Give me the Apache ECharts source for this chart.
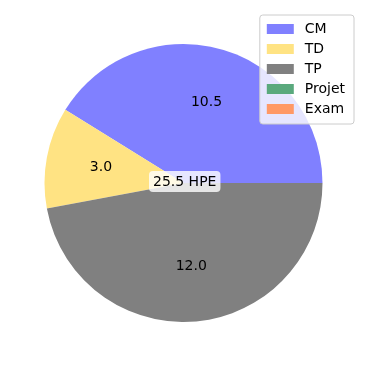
<!DOCTYPE html>
<html><head><meta charset="utf-8">
<script src="https://cdn.jsdelivr.net/npm/echarts@6/dist/echarts.min.js"></script>
<style>html,body{margin:0;padding:0;background:#fff}#c{width:366px;height:366px}</style>
</head><body><div id="c"></div>
<script>
const categories = ['CM', 'TD', 'TP', 'Projet', 'Exam'];
const values = [10.5, 3.0, 12.0, 0, 0];
const colors = ['#8080ff', '#ffe383', '#808080', '#5aa97d', '#ff9966'];
const centerText = '25.5 HPE';

const chart = echarts.init(document.getElementById('c'), null, {renderer: 'canvas'});
const data = categories.map((n, i) => ({name: n, value: values[i], itemStyle: {color: colors[i]}}));
const font = 'DejaVu Sans';
chart.setOption({
  animation: false,
  legend: {
    orient: 'vertical', right: 12, top: 15,
    data: categories,
    itemWidth: 27, itemHeight: 10, itemGap: 6,
    icon: 'rect',
    backgroundColor: 'rgba(255,255,255,0.8)',
    borderColor: '#cccccc', borderWidth: 1, borderRadius: 3,
    padding: [7, 9, 8, 7],
    textStyle: {fontFamily: font, fontSize: 14, lineHeight: 14, color: '#000', padding: [0, 0, 0, 6]},
    selectedMode: false
  },
  series: [
    {
      type: 'pie', center: [183.5, 183], radius: 139,
      startAngle: 0, clockwise: false,
      data: data,
      label: {show: false}, labelLine: {show: false},
      emphasis: {disabled: true}, silent: true, z: 1
    },
    {
      type: 'pie', center: [183.5, 183], radius: 162,
      startAngle: 0, clockwise: false,
      data: categories.map((n, i) => ({name: n, value: values[i], itemStyle: {color: 'rgba(0,0,0,0)'}})),
      label: {
        show: true, position: 'inside',
        formatter: p => p.value > 0 ? p.value.toFixed(1) : '',
        fontFamily: font, fontSize: 14, color: '#000'
      },
      labelLine: {show: false},
      emphasis: {disabled: true}, silent: true, z: 2
    }
  ],
  graphic: [{
    type: 'text', left: 149, top: 171, z: 100,
    style: {
      text: centerText, font: '14px "DejaVu Sans"', fill: '#000',
      backgroundColor: 'rgba(255,255,255,0.8)', borderRadius: 4,
      padding: [4, 4, 3, 4]
    }
  }]
});
</script></body></html>
